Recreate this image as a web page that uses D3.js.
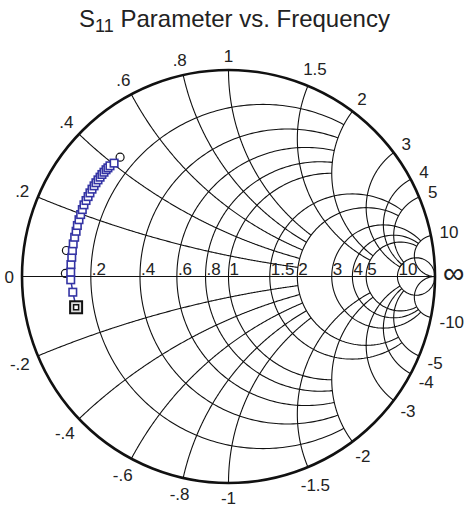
<!DOCTYPE html>
<html>
<head>
<meta charset="utf-8">
<script src="https://cdn.jsdelivr.net/npm/d3@7/dist/d3.min.js"></script>
<style>
  body { margin: 0; background: #fff; }
  svg { display: block; }
</style>
</head>
<body>
<div id="myChart"></div>
<script>
// grid values used for both resistance circles and reactance arcs
const gridValues = [0.2, 0.4, 0.6, 0.8, 1, 1.5, 2, 3, 4, 5, 10];
// value of the crossing line where each grid line stops
const gridEnds = [2, 2, 2, 2, 2, 5, 5, 10, 10, 10, 1000];
const gridLabels = [".2", ".4", ".6", ".8", "1", "1.5", "2", "3", "4", "5", "10"];

// S11 trace, reflection coefficient (real / imag)
const s11Re = [-0.738, -0.754, -0.764, -0.764, -0.763, -0.759, -0.756, -0.752, -0.745, -0.738, -0.732,
  -0.724, -0.716, -0.708, -0.700, -0.690, -0.680, -0.671, -0.661, -0.651, -0.642, -0.632,
  -0.622, -0.613, -0.603, -0.593, -0.584, -0.574, -0.554];
const s11Im = [-0.149, -0.076, -0.016, 0.021, 0.058, 0.093, 0.126, 0.158, 0.190, 0.219, 0.247,
  0.275, 0.300, 0.324, 0.347, 0.368, 0.387, 0.405, 0.423, 0.439, 0.454, 0.468,
  0.481, 0.494, 0.505, 0.517, 0.526, 0.536, 0.549];
// second set of markers (mostly hidden behind the squares)
const refRe = [-0.790, -0.785, -0.525];
const refIm = [0.015, 0.126, 0.578];

const width = 474, height = 511;
const cx = 228.5, cy = 276.5, R = 206.5;

const svg = d3.select("#myChart")
  .append("svg")
    .attr("width", width)
    .attr("height", height);

const x = d3.scaleLinear().domain([-1, 1]).range([cx - R, cx + R]);
const y = d3.scaleLinear().domain([-1, 1]).range([cy + R, cy - R]);

// z = r + jx  ->  gamma
function gamma(r, xx) {
  const den = (r + 1) * (r + 1) + xx * xx;
  return [(r * r - 1 + xx * xx) / den, 2 * xx / den];
}

const line = d3.line().x(d => x(d[0])).y(d => y(d[1]));
const N = 240;

const grid = svg.append("g")
  .attr("fill", "none")
  .attr("stroke", "#111")
  .attr("stroke-width", 1.1);

// constant resistance circles
gridValues.forEach(function(r, i) {
  const tMax = Math.atan(gridEnds[i]);
  const pts = d3.range(N + 1).map(k => gamma(r, Math.tan(-tMax + 2 * tMax * k / N)));
  grid.append("path").attr("d", line(pts));
});

// constant reactance arcs (upper and lower)
gridValues.forEach(function(xv, i) {
  const tMax = Math.atan(gridEnds[i]);
  [1, -1].forEach(function(s) {
    const pts = d3.range(N + 1).map(k => gamma(Math.tan(tMax * k / N), s * xv));
    grid.append("path").attr("d", line(pts));
  });
});

// real axis
grid.append("line")
  .attr("x1", x(-1)).attr("x2", x(1))
  .attr("y1", y(0)).attr("y2", y(0));

// outer circle
svg.append("circle")
  .attr("cx", x(0)).attr("cy", y(0))
  .attr("r", x(1) - x(0))
  .attr("fill", "none")
  .attr("stroke", "#111")
  .attr("stroke-width", 2.6);

const labels = svg.append("g")
  .style("font-family", "'Liberation Sans', Arial, Helvetica, sans-serif")
  .style("font-size", "17px")
  .attr("fill", "#222");

// resistance labels on the real axis
gridValues.forEach(function(r, i) {
  labels.append("text")
    .attr("x", x(gamma(r, 0)[0]) + 1)
    .attr("y", y(0) - 2)
    .text(gridLabels[i]);
});

// reactance labels around the edge
function edgeLabel(g, txt, size) {
  const t = labels.append("text").attr("text-anchor", "middle").text(txt);
  if (size) t.style("font-size", size);
  const w = t.node().getComputedTextLength();
  const h = 12.5;
  const len = Math.hypot(g[0], g[1]);
  const c = g[0] / len, s = g[1] / len;
  const d = 8 + Math.abs(c) * w / 2 + Math.abs(s) * h / 2;
  t.attr("x", x(g[0]) + c * d)
   .attr("y", y(g[1]) - s * d + h / 2);
}
gridValues.forEach(function(xv, i) {
  edgeLabel(gamma(0, xv), gridLabels[i]);
  edgeLabel(gamma(0, -xv), "-" + gridLabels[i]);
});
edgeLabel([-1, 0], "0");
edgeLabel([1, 0], "\u221E", "30px");

// second marker set
svg.append("g").selectAll("circle")
  .data(refRe.map((d, i) => [d, refIm[i]]))
  .join("circle")
    .attr("cx", d => x(d[0]))
    .attr("cy", d => y(d[1]))
    .attr("r", 4)
    .attr("fill", "none")
    .attr("stroke", "#111")
    .attr("stroke-width", 1.2);

// S11 trace
const s11 = s11Re.map((d, i) => [d, s11Im[i]]);
const blue = "#3434a4";
svg.append("path")
  .attr("d", line(s11))
  .attr("fill", "none")
  .attr("stroke", blue)
  .attr("stroke-width", 1.5);

svg.append("g").selectAll("rect")
  .data(s11.slice(1))
  .join("rect")
    .attr("x", d => x(d[0]) - 3.75)
    .attr("y", d => y(d[1]) - 3.75)
    .attr("width", 7.5)
    .attr("height", 7.5)
    .attr("fill", "#fff")
    .attr("stroke", blue)
    .attr("stroke-width", 1.6);

// start marker
const st = s11[0];
svg.append("rect")
  .attr("x", x(st[0]) - 6).attr("y", y(st[1]) - 6)
  .attr("width", 12).attr("height", 12)
  .attr("fill", "#ddd").attr("stroke", "#111").attr("stroke-width", 2);
svg.append("rect")
  .attr("x", x(st[0]) - 2.5).attr("y", y(st[1]) - 2.5)
  .attr("width", 5).attr("height", 5)
  .attr("fill", "#fff").attr("stroke", "#111").attr("stroke-width", 1.5);

// title
const title = svg.append("text")
  .attr("x", 234.5)
  .attr("y", 27)
  .attr("text-anchor", "middle")
  .style("font-family", "'Liberation Sans', Arial, Helvetica, sans-serif")
  .style("font-size", "24px")
  .attr("fill", "#222");
title.append("tspan").text("S");
title.append("tspan").attr("dy", 5).style("font-size", "18px").text("11");
title.append("tspan").attr("dy", -5).text(" Parameter vs. Frequency");
</script>
</body>
</html>
